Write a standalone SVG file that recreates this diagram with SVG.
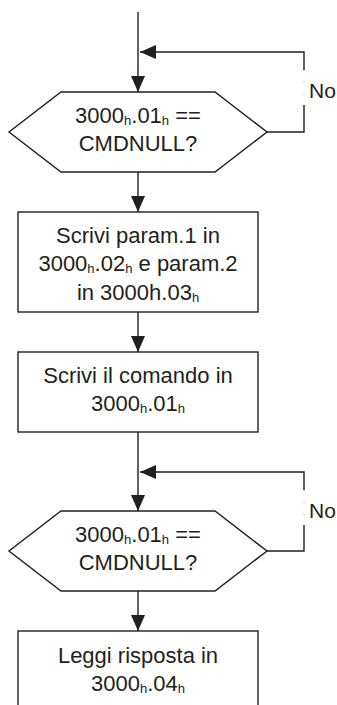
<svg xmlns="http://www.w3.org/2000/svg" width="337" height="705" viewBox="0 0 337 705">
<defs>
<style>
.ln{fill:none;stroke:#231f20;stroke-width:1.4}
.gap{fill:none;stroke:#231f20;stroke-width:0.6;stroke-dasharray:1 11;opacity:0.6}
.sh{fill:#fff;stroke:#231f20;stroke-width:1.4}
.t{font-family:"Liberation Sans",Arial,sans-serif;font-size:22px;fill:#231f20;text-anchor:middle}
.no{font-family:"Liberation Sans",Arial,sans-serif;font-size:21px;fill:#231f20}
.s{font-size:13px}
</style>
<marker id="arr" markerWidth="16" markerHeight="14" viewBox="0 0 16 14" refX="16" refY="7" orient="auto" markerUnits="userSpaceOnUse">
<path d="M0,0 L16,7 L0,14 Z" fill="#231f20"/>
</marker>
</defs>

<g id="decision1">
<polygon class="sh" points="61,92 215,92 267,132 215,172 61,172 9,132"/>
<text class="t" x="138" y="123">3000<tspan class="s" dy="2">h</tspan><tspan dy="-2">.01</tspan><tspan class="s" dy="2">h</tspan><tspan dy="-2"> ==</tspan></text>
<text class="t" x="138" y="151">CMDNULL?</text>
</g>

<g id="box1">
<rect class="sh" x="18" y="212" width="240" height="100"/>
<text class="t" x="138" y="243">Scrivi param.1 in</text>
<text class="t" x="138" y="271">3000<tspan class="s" dy="2">h</tspan><tspan dy="-2">.02</tspan><tspan class="s" dy="2">h</tspan><tspan dy="-2"> e param.2</tspan></text>
<text class="t" x="138" y="300">in 3000h.03<tspan class="s" dy="2">h</tspan></text>
</g>

<g id="box2">
<rect class="sh" x="18" y="352" width="240" height="80"/>
<text class="t" x="138" y="383">Scrivi il comando in</text>
<text class="t" x="138" y="411">3000<tspan class="s" dy="2">h</tspan><tspan dy="-2">.01</tspan><tspan class="s" dy="2">h</tspan></text>
</g>

<g id="decision2">
<polygon class="sh" points="61,511 215,511 267,551 215,591 61,591 9,551"/>
<text class="t" x="138" y="542">3000<tspan class="s" dy="2">h</tspan><tspan dy="-2">.01</tspan><tspan class="s" dy="2">h</tspan><tspan dy="-2"> ==</tspan></text>
<text class="t" x="138" y="570">CMDNULL?</text>
</g>

<g id="box3">
<rect class="sh" x="18" y="631" width="240" height="90"/>
<text class="t" x="138" y="663">Leggi risposta in</text>
<text class="t" x="138" y="691">3000<tspan class="s" dy="2">h</tspan><tspan dy="-2">.04</tspan><tspan class="s" dy="2">h</tspan></text>
</g>

<g id="connectors">
<path d="M138,12 L138,92" class="ln" marker-end="url(#arr)"/>
<path d="M267,132 L304,132 L304,105"  class="ln"/>
<path d="M304,70 L304,52 L140,52" class="ln" marker-end="url(#arr)"/>
<line class="gap" x1="304" y1="70" x2="304" y2="105"/>
<path d="M138,172 L138,212" class="ln" marker-end="url(#arr)"/>
<path d="M138,312 L138,352" class="ln" marker-end="url(#arr)"/>
<path d="M138,432 L138,511" class="ln" marker-end="url(#arr)"/>
<path d="M267,551 L304,551 L304,525" class="ln"/>
<path d="M304,490 L304,472 L140,472" class="ln" marker-end="url(#arr)"/>
<line class="gap" x1="304" y1="490" x2="304" y2="525"/>
<path d="M138,591 L138,631" class="ln" marker-end="url(#arr)"/>
</g>

<g id="label-no-1">
<text class="no" x="309" y="98">No</text>
</g>
<g id="label-no-2">
<text class="no" x="309" y="518">No</text>
</g>
</svg>
